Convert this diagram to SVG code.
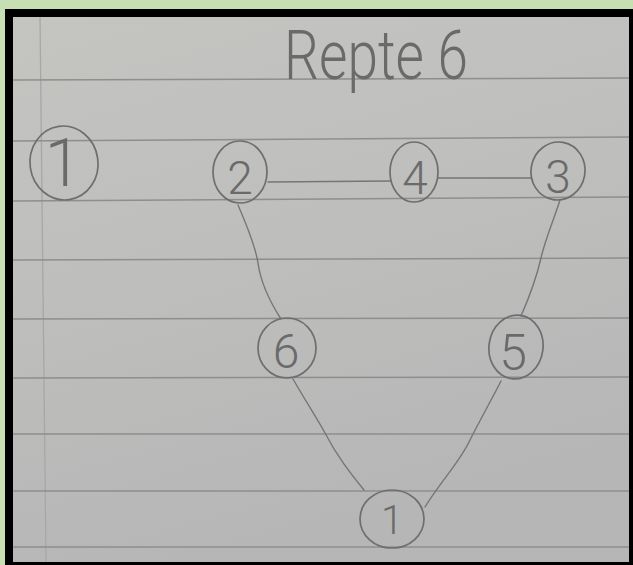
<svg xmlns="http://www.w3.org/2000/svg" width="633" height="565" viewBox="0 0 633 565">
  <defs>
    <linearGradient id="paper" x1="0" y1="0" x2="0.3" y2="1">
      <stop offset="0" stop-color="#c4c5c1"/>
      <stop offset="0.5" stop-color="#bebebd"/>
      <stop offset="1" stop-color="#b6b6b6"/>
    </linearGradient>
    <style>
      .rule { stroke:#8e8e8e; stroke-width:1.5; fill:none; }
      .margin { stroke:#a9a6a6; stroke-width:1.3; fill:none; }
      .node { fill:none; stroke:#6e6e6e; stroke-width:1.7; }
      .edge { fill:none; stroke:#767676; stroke-width:1.4; stroke-linecap:round; }
      .lbl { font-family:Roboto, "Open Sans", "DejaVu Sans", sans-serif; font-weight:300; fill:#6a6a6a; text-anchor:middle; }
      .title { font-family:Roboto, "Open Sans", "DejaVu Sans", sans-serif; font-weight:300; fill:#6a6a6a; font-size:68px; }
    </style>
  </defs>

  <!-- background and frame -->
  <rect x="0" y="0" width="633" height="565" fill="#c6e0b4"/>
  <rect x="5" y="9" width="628" height="556" fill="#000"/>
  <rect x="13" y="17" width="616" height="545" fill="url(#paper)"/>

  <!-- ruled paper -->
  <g id="paper-lines">
    <line class="margin" x1="40" y1="17" x2="46" y2="562"/>
    <line class="rule" x1="13" y1="80" x2="629" y2="78"/>
    <line class="rule" x1="13" y1="141" x2="629" y2="137"/>
    <line class="rule" x1="13" y1="201" x2="629" y2="197"/>
    <line class="rule" x1="13" y1="260" x2="629" y2="258"/>
    <line class="rule" x1="13" y1="319" x2="629" y2="318"/>
    <line class="rule" x1="13" y1="378" x2="629" y2="377"/>
    <line class="rule" x1="13" y1="434" x2="629" y2="434"/>
    <line class="rule" x1="13" y1="491" x2="629" y2="491"/>
    <line class="rule" x1="13" y1="547" x2="629" y2="547"/>
  </g>

  <!-- title -->
  <text class="title" x="284" y="79" textLength="184" lengthAdjust="spacingAndGlyphs">Repte 6</text>

  <!-- connectors -->
  <g id="edges">
    <path class="edge" d="M268,182 L391,181"/>
    <path class="edge" d="M438,178 L531,178"/>
    <path class="edge" d="M238,205 C248,228 256,250 258,263 C261,285 272,305 281,319"/>
    <path class="edge" d="M560,200 C553,222 545,240 541,258 C536,280 528,300 521,316"/>
    <path class="edge" d="M293,379 C305,400 318,420 325,433 C338,458 352,475 364,490"/>
    <path class="edge" d="M501,381 C494,395 480,420 470,440 C460,462 440,482 425,507"/>
  </g>

  <!-- nodes -->
  <g id="node-1-isolated">
    <ellipse class="node" cx="64" cy="163" rx="34" ry="37" transform="rotate(-8 64 163)"/>
    <text class="lbl" x="63" y="186" font-size="66">1</text>
  </g>
  <g id="node-2">
    <ellipse class="node" cx="240" cy="172" rx="27" ry="31"/>
    <text class="lbl" x="240" y="194" font-size="46">2</text>
  </g>
  <g id="node-4">
    <ellipse class="node" cx="414" cy="172" rx="24" ry="30"/>
    <text class="lbl" x="415" y="194" font-size="46">4</text>
  </g>
  <g id="node-3">
    <ellipse class="node" cx="558" cy="171" rx="27" ry="29" transform="rotate(10 558 171)"/>
    <text class="lbl" x="558" y="193" font-size="46">3</text>
  </g>
  <g id="node-6">
    <ellipse class="node" cx="287" cy="348" rx="29" ry="30"/>
    <text class="lbl" x="286" y="368" font-size="48">6</text>
  </g>
  <g id="node-5">
    <ellipse class="node" cx="516" cy="347" rx="27" ry="32" transform="rotate(8 516 347)"/>
    <text class="lbl" x="513" y="370" font-size="50">5</text>
  </g>
  <g id="node-1">
    <ellipse class="node" cx="392" cy="519" rx="32" ry="29"/>
    <text class="lbl" x="392" y="534" font-size="40">1</text>
  </g>
</svg>
